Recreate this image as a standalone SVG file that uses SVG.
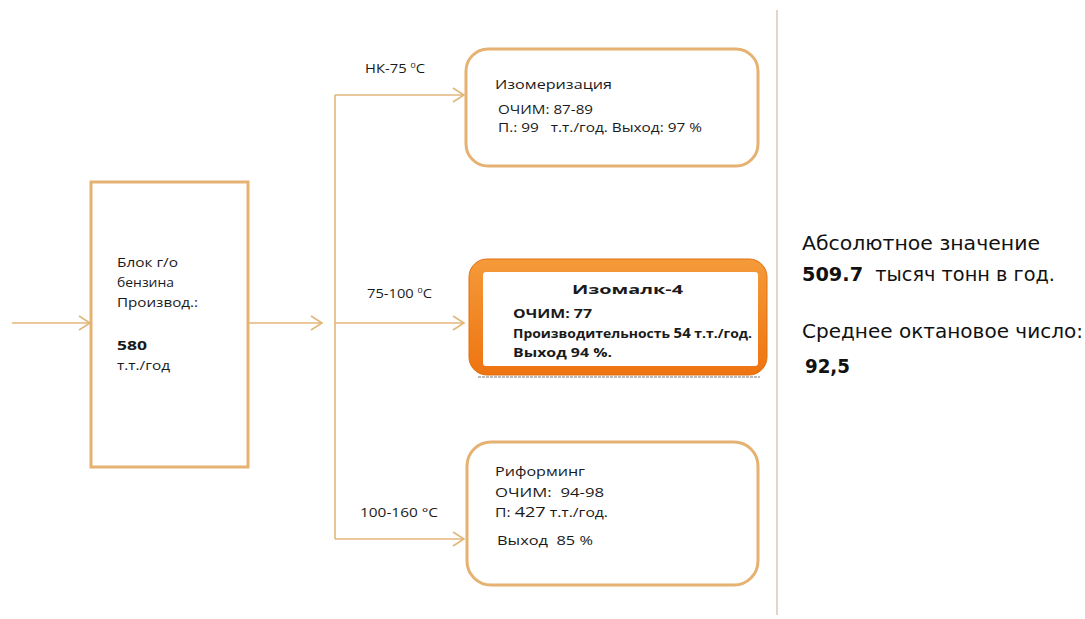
<svg xmlns="http://www.w3.org/2000/svg" width="1085" height="619" viewBox="0 0 1085 619">
<defs>
<style>
.ln{stroke:#e2b67a;stroke-width:1.6;fill:none}
.box{fill:#fff;stroke:#e6b272;stroke-width:3}
.t{font-family:"Open Sans","DejaVu Sans",sans-serif;font-size:13px;fill:#1a1a1a}
.b{font-weight:bold}
.r{font-family:"DejaVu Sans",Verdana,sans-serif;font-size:20px;fill:#111}
</style>
<marker id="ah" markerWidth="14" markerHeight="16" refX="12" refY="8" orient="auto" markerUnits="userSpaceOnUse">
<path d="M1,1 L12,8 L1,15" fill="none" stroke="#e2b67a" stroke-width="1.6"/>
</marker>
<linearGradient id="og" x1="0" y1="0" x2="0" y2="1">
<stop offset="0" stop-color="#f59a3a"/>
<stop offset="1" stop-color="#ee7410"/>
</linearGradient>
</defs>
<rect width="1085" height="619" fill="#fff"/>
<g id="connectors">
<line class="ln" x1="12" y1="323" x2="90" y2="323" marker-end="url(#ah)"/>
<line class="ln" x1="249" y1="323" x2="322" y2="323" marker-end="url(#ah)"/>
<line class="ln" x1="335" y1="95" x2="335" y2="539"/>
<line class="ln" x1="335" y1="95" x2="464" y2="95" marker-end="url(#ah)"/>
<line class="ln" x1="335" y1="323" x2="464" y2="323" marker-end="url(#ah)"/>
<line class="ln" x1="335" y1="539" x2="464" y2="539" marker-end="url(#ah)"/>
<text class="t" x="365" y="73" textLength="60" lengthAdjust="spacingAndGlyphs">НК-75 <tspan font-size="8" dy="-5">0</tspan><tspan dy="5">C</tspan></text>
<text class="t" x="367" y="298" textLength="65" lengthAdjust="spacingAndGlyphs">75-100 <tspan font-size="8" dy="-5">0</tspan><tspan dy="5">C</tspan></text>
<text class="t" x="360" y="517" textLength="78" lengthAdjust="spacingAndGlyphs">100-160 °C</text>
</g>
<g id="separator">
<line x1="777" y1="10" x2="777" y2="615" stroke="#d9c9b0" stroke-width="1.5"/>
</g>
<g id="block">
<rect class="box" x="91" y="182" width="157" height="285"/>
<text class="t" x="117" y="267" textLength="61" lengthAdjust="spacingAndGlyphs">Блок г/о</text>
<text class="t" x="117" y="287" textLength="57" lengthAdjust="spacingAndGlyphs">бензина</text>
<text class="t" x="117" y="307" textLength="81" lengthAdjust="spacingAndGlyphs">Производ.:</text>
<text class="t b" x="117" y="350" font-size="14" textLength="30" lengthAdjust="spacingAndGlyphs">580</text>
<text class="t" x="117" y="370" textLength="53" lengthAdjust="spacingAndGlyphs">т.т./год</text>
</g>
<g id="isomerization">
<rect class="box" x="466" y="49" width="292" height="117" rx="22"/>
<text class="t" x="495" y="89" font-size="14" textLength="117" lengthAdjust="spacingAndGlyphs">Изомеризация</text>
<text class="t" x="498" y="114" textLength="95" lengthAdjust="spacingAndGlyphs">ОЧИМ: 87-89</text>
<text class="t" x="498" y="132" xml:space="preserve" textLength="204" lengthAdjust="spacingAndGlyphs">П.: 99   т.т./год. Выход: 97 %</text>
</g>
<g id="isomalk">
<rect x="469" y="259" width="298" height="116" rx="18" fill="url(#og)" stroke="#e07010" stroke-width="1"/>
<line x1="478" y1="377" x2="760" y2="377" stroke="#bbb" stroke-width="2" stroke-dasharray="3 1"/>
<rect x="483" y="272" width="275" height="94" rx="3" fill="#fff"/>
<text class="t b" x="572" y="294" font-size="18" textLength="111" lengthAdjust="spacingAndGlyphs">Изомалк-4</text>
<text class="t b" x="513" y="318" font-size="13.5" textLength="79" lengthAdjust="spacingAndGlyphs">ОЧИМ: 77</text>
<text class="t b" x="513" y="338" font-size="12" textLength="239" lengthAdjust="spacingAndGlyphs">Производительность <tspan font-size="14">54</tspan> т.т./год.</text>
<text class="t b" x="513" y="357" font-size="12.5" textLength="99" lengthAdjust="spacingAndGlyphs">Выход 94 %.</text>
</g>
<g id="reforming">
<rect class="box" x="467" y="442" width="291" height="143" rx="24"/>
<text class="t" x="495" y="476" textLength="90" lengthAdjust="spacingAndGlyphs">Риформинг</text>
<text class="t" x="495" y="497" xml:space="preserve" textLength="109" lengthAdjust="spacingAndGlyphs">ОЧИМ:  94-98</text>
<text class="t" x="495" y="517" textLength="113" lengthAdjust="spacingAndGlyphs">П: <tspan font-size="15">427</tspan> т.т./год.</text>
<text class="t" x="497" y="545" xml:space="preserve" textLength="96" lengthAdjust="spacingAndGlyphs">Выход  85 %</text>
</g>
<g id="summary">
<text class="r" x="802" y="250" textLength="238" lengthAdjust="spacingAndGlyphs">Абсолютное значение</text>
<text class="r" x="802" y="281" xml:space="preserve" textLength="253" lengthAdjust="spacingAndGlyphs"><tspan font-weight="bold">509.7</tspan>  тысяч тонн в год.</text>
<text class="r" x="802" y="338" textLength="281" lengthAdjust="spacingAndGlyphs">Среднее октановое число:</text>
<text class="r" x="805" y="373" font-weight="bold" textLength="45" lengthAdjust="spacingAndGlyphs">92,5</text>
</g>
</svg>
